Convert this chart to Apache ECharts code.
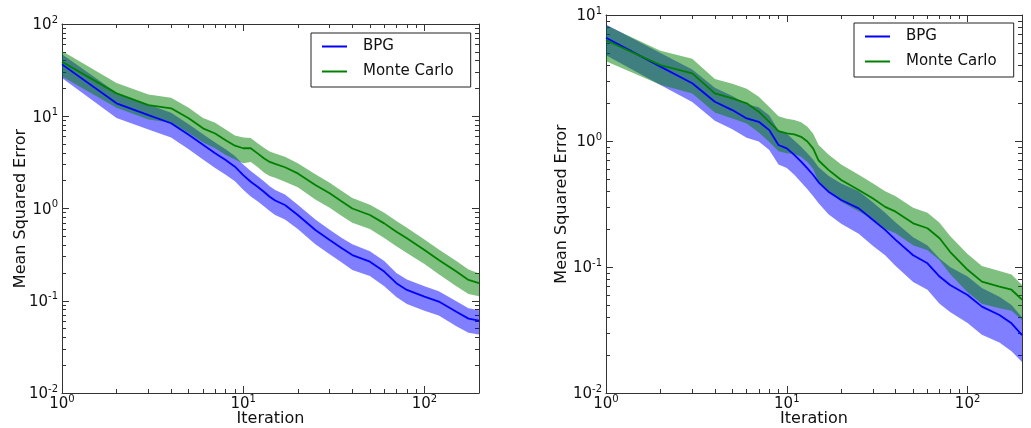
<!DOCTYPE html>
<html>
<head>
<meta charset="utf-8">
<script src="https://cdn.jsdelivr.net/npm/echarts@6/dist/echarts.min.js"></script>
<style>html,body{margin:0;padding:0;background:#fff;}#c{width:1031px;height:428px;}</style>
</head>
<body>
<div id="c"></div>
<script>
// ---- data ----
const iters = [1,2,3,4,5,6,7,8,9,10,11,12,13,14,15,17,20,25,30,35,40,50,60,70,80,100,120,150,175,200];

// left panel
const leftBpgMean = [36.5,13.8,10.3,8.4,6.3,4.9,3.97,3.36,2.84,2.3,1.95,1.72,1.52,1.34,1.22,1.09,0.85,0.585,0.455,0.37,0.313,0.265,0.207,0.155,0.131,0.111,0.098,0.076,0.064,0.061];
const leftBpgLow  = [26,9.6,7.2,5.9,4.4,3.4,2.74,2.32,1.98,1.6,1.35,1.2,1.06,0.94,0.85,0.76,0.6,0.41,0.32,0.26,0.216,0.185,0.144,0.11,0.092,0.078,0.069,0.053,0.045,0.043];
const leftBpgHigh = [47,18,13.4,10.9,8.2,6.4,5.2,4.4,3.7,3.0,2.55,2.24,1.98,1.74,1.59,1.42,1.1,0.76,0.59,0.48,0.41,0.345,0.27,0.2,0.17,0.144,0.127,0.099,0.083,0.079];
const leftMcMean  = [39,17.7,13.2,12.2,9.5,7.4,6.5,5.5,4.8,4.5,4.5,3.96,3.5,3.2,3.05,2.8,2.4,1.8,1.46,1.19,1.0,0.85,0.69,0.56,0.475,0.355,0.277,0.207,0.168,0.155];
const leftMcLow   = [27,12.4,9.2,8.5,6.6,5.2,4.5,3.8,3.4,3.1,3.2,2.82,2.45,2.25,2.15,1.95,1.7,1.25,1.02,0.83,0.7,0.6,0.48,0.39,0.33,0.25,0.194,0.144,0.118,0.112];
const leftMcHigh  = [51,23,17.2,15.9,12.4,9.6,8.5,7.2,6.2,5.9,5.8,5.1,4.55,4.15,3.95,3.65,3.1,2.35,1.9,1.55,1.3,1.1,0.9,0.73,0.62,0.46,0.36,0.27,0.218,0.198];

// right panel
const rightBpgMean = [6.6,3.89,2.87,2.05,1.76,1.51,1.42,1.22,0.93,0.875,0.775,0.686,0.607,0.537,0.47,0.396,0.34,0.292,0.236,0.197,0.164,0.124,0.107,0.084,0.072,0.06,0.0485,0.0416,0.0357,0.0288];
const rightBpgLow  = [4.8,2.78,2.04,1.45,1.24,1.06,0.99,0.85,0.65,0.61,0.54,0.47,0.414,0.364,0.32,0.262,0.22,0.184,0.147,0.124,0.102,0.076,0.066,0.051,0.044,0.036,0.029,0.0252,0.0214,0.0176];
const rightBpgHigh = [8.4,5.0,3.7,2.65,2.28,1.96,1.85,1.59,1.21,1.14,1.01,0.9,0.8,0.71,0.62,0.53,0.46,0.4,0.325,0.27,0.226,0.172,0.148,0.117,0.1,0.084,0.068,0.058,0.05,0.04];
const rightMcMean  = [6.3,4.0,3.44,2.39,2.18,1.99,1.71,1.42,1.2,1.15,1.13,1.08,0.99,0.87,0.70,0.59,0.49,0.408,0.35,0.30,0.275,0.222,0.203,0.169,0.132,0.095,0.0765,0.07,0.066,0.055];
const rightMcLow   = [4.3,2.8,2.38,1.68,1.51,1.38,1.17,0.98,0.83,0.8,0.79,0.75,0.68,0.6,0.47,0.4,0.33,0.276,0.24,0.2,0.185,0.149,0.136,0.113,0.088,0.063,0.051,0.047,0.045,0.038];
const rightMcHigh  = [8.3,5.2,4.5,3.1,2.85,2.6,2.25,1.86,1.57,1.5,1.47,1.41,1.3,1.14,0.93,0.78,0.65,0.54,0.46,0.4,0.365,0.295,0.27,0.225,0.176,0.127,0.102,0.093,0.087,0.072];

// ticks
const xMajorTicks = [1,10,100];
const xMinorTicks = [2,3,4,5,6,7,8,9,20,30,40,50,60,70,80,90,200];
const yMajorTicksLeft = [0.01,0.1,1,10,100];
const yMajorTicksRight = [0.01,0.1,1,10];
const yMinorTicksLeft = [0.02,0.03,0.04,0.05,0.06,0.07,0.08,0.09,0.2,0.3,0.4,0.5,0.6,0.7,0.8,0.9,2,3,4,5,6,7,8,9,20,30,40,50,60,70,80,90];
const yMinorTicksRight = [0.02,0.03,0.04,0.05,0.06,0.07,0.08,0.09,0.2,0.3,0.4,0.5,0.6,0.7,0.8,0.9,2,3,4,5,6,7,8,9];
const seriesNames = ['BPG','Monte Carlo'];
const xName = 'Iteration';
const yName = 'Mean Squared Error';

// ---- chart ----
const FONT = 'DejaVu Sans';
const BLUE = '#0000ff', GREEN = '#008000';
const pairs = (ys) => iters.map((x, i) => [x, ys[i]]);
const triples = (lo, hi) => iters.map((x, i) => [x, lo[i], hi[i]]);

const grids = [
  {left: 62, top: 24, width: 417, height: 369, outerBoundsMode: 'none', containLabel: false},
  {left: 606, top: 15, width: 416, height: 378, outerBoundsMode: 'none', containLabel: false}
];
const yRanges = [[0.01, 100], [0.01, 10]];
const yMajors = [yMajorTicksLeft, yMajorTicksRight];
const yMinors = [yMinorTicksLeft, yMinorTicksRight];

const supFmt = (v) => {
  const e = Math.round(Math.log10(v));
  return '{b|10}{s|' + (e < 0 ? '-' : '') + Math.abs(e) + '}';
};
const rich = {
  b: {fontFamily: FONT, fontSize: 15, color: '#111', lineHeight: 18, verticalAlign: 'bottom'},
  s: {fontFamily: FONT, fontSize: 10, color: '#111', lineHeight: 18, verticalAlign: 'top'}
};
const lineCol = '#333';

const xAxes = [], yAxes = [];
grids.forEach((g, gi) => {
  ['bottom', 'top'].forEach((pos) => {
    [true, false].forEach((major) => {
      const a = {
        gridIndex: gi, type: 'log', logBase: 10, min: 1, max: 200, position: pos,
        axisLine: {show: major, onZero: false, lineStyle: {color: lineCol, width: 1}},
        axisTick: {show: true, inside: true, length: major ? 7 : 4,
          customValues: major ? xMajorTicks : xMinorTicks, lineStyle: {color: lineCol, width: 1}},
        axisLabel: {show: major && pos === 'bottom', customValues: xMajorTicks, formatter: supFmt, rich: rich, margin: 1},
        splitLine: {show: false}, minorTick: {show: false}
      };
      if (major && pos === 'bottom') {
        a.name = xName; a.nameLocation = 'middle'; a.nameGap = 18; a.nameMoveOverlap = false;
        a.nameTextStyle = {fontFamily: FONT, fontSize: 16, color: '#111'};
      }
      xAxes.push(a);
    });
  });
  ['left', 'right'].forEach((pos) => {
    [true, false].forEach((major) => {
      const a = {
        gridIndex: gi, type: 'log', logBase: 10, min: yRanges[gi][0], max: yRanges[gi][1], position: pos,
        axisLine: {show: major, onZero: false, lineStyle: {color: lineCol, width: 1}},
        axisTick: {show: true, inside: true, length: major ? 7 : 4,
          customValues: major ? yMajors[gi] : yMinors[gi], lineStyle: {color: lineCol, width: 1}},
        axisLabel: {show: major && pos === 'left', customValues: yMajors[gi], formatter: supFmt, rich: rich, margin: 4},
        splitLine: {show: false}, minorTick: {show: false}
      };
      if (major && pos === 'left') {
        a.name = yName; a.nameLocation = 'middle'; a.nameGap = gi === 0 ? 33 : 36; a.nameMoveOverlap = false;
        a.nameTextStyle = {fontFamily: FONT, fontSize: 16, color: '#111'};
      }
      yAxes.push(a);
    });
  });
});

const panels = [
  {bm: leftBpgMean, bl: leftBpgLow, bh: leftBpgHigh, mm: leftMcMean, ml: leftMcLow, mh: leftMcHigh},
  {bm: rightBpgMean, bl: rightBpgLow, bh: rightBpgHigh, mm: rightMcMean, ml: rightMcLow, mh: rightMcHigh}
];

// band polygon through the axis scales: upper edge forward, lower edge backward
function bandRenderer(fill) {
  return function (params, api) {
    if (params.dataIndexInside !== 0) return null;
    const n = params.dataInsideLength;
    const up = [], dn = [];
    for (let j = 0; j < n; j++) {
      const x = api.value(0, j);
      up.push(api.coord([x, api.value(2, j)]));
      dn.push(api.coord([x, api.value(1, j)]));
    }
    const pts = up.concat(dn.reverse());
    return {type: 'polygon', shape: {points: pts}, style: {fill: fill, stroke: null}};
  };
}

const series = [];
panels.forEach((p, gi) => {
  const xi = gi * 4, yi = gi * 4;
  const common = {xAxisIndex: xi, yAxisIndex: yi, silent: true, animation: false};
  series.push(Object.assign({}, common, {type: 'custom', name: 'bpgBand' + gi, data: triples(p.bl, p.bh),
    encode: {x: 0, y: [1, 2]}, renderItem: bandRenderer('rgba(0,0,255,0.5)'), z: 1}));
  series.push(Object.assign({}, common, {type: 'custom', name: 'mcBand' + gi, data: triples(p.ml, p.mh),
    encode: {x: 0, y: [1, 2]}, renderItem: bandRenderer('rgba(0,128,0,0.5)'), z: 2}));
  series.push(Object.assign({}, common, {type: 'line', symbol: 'none', name: seriesNames[0], data: pairs(p.bm),
    lineStyle: {color: BLUE, width: 1.8}, itemStyle: {color: BLUE}, z: 5}));
  series.push(Object.assign({}, common, {type: 'line', symbol: 'none', name: seriesNames[1], data: pairs(p.mm),
    lineStyle: {color: GREEN, width: 1.8}, itemStyle: {color: GREEN}, z: 5}));
});

const legendBase = {
  orient: 'vertical', align: 'left', data: seriesNames, icon: 'rect', itemWidth: 25, itemHeight: 2, itemGap: 10,
  borderColor: '#222', borderWidth: 1, borderRadius: 0, backgroundColor: '#fff',
  padding: [6, 17, 8, 11], selectedMode: false,
  textStyle: {fontFamily: FONT, fontSize: 15, color: '#111', padding: [0, 0, 0, 11]}
};
const legends = [
  Object.assign({}, legendBase, {left: 311, top: 33}),
  Object.assign({}, legendBase, {left: 854, top: 23})
];

const chart = echarts.init(document.getElementById('c'), null, {renderer: 'canvas'});
chart.setOption({
  animation: false,
  backgroundColor: '#fff',
  grid: grids,
  xAxis: xAxes,
  yAxis: yAxes,
  legend: legends,
  series: series
});
</script>
</body>
</html>
